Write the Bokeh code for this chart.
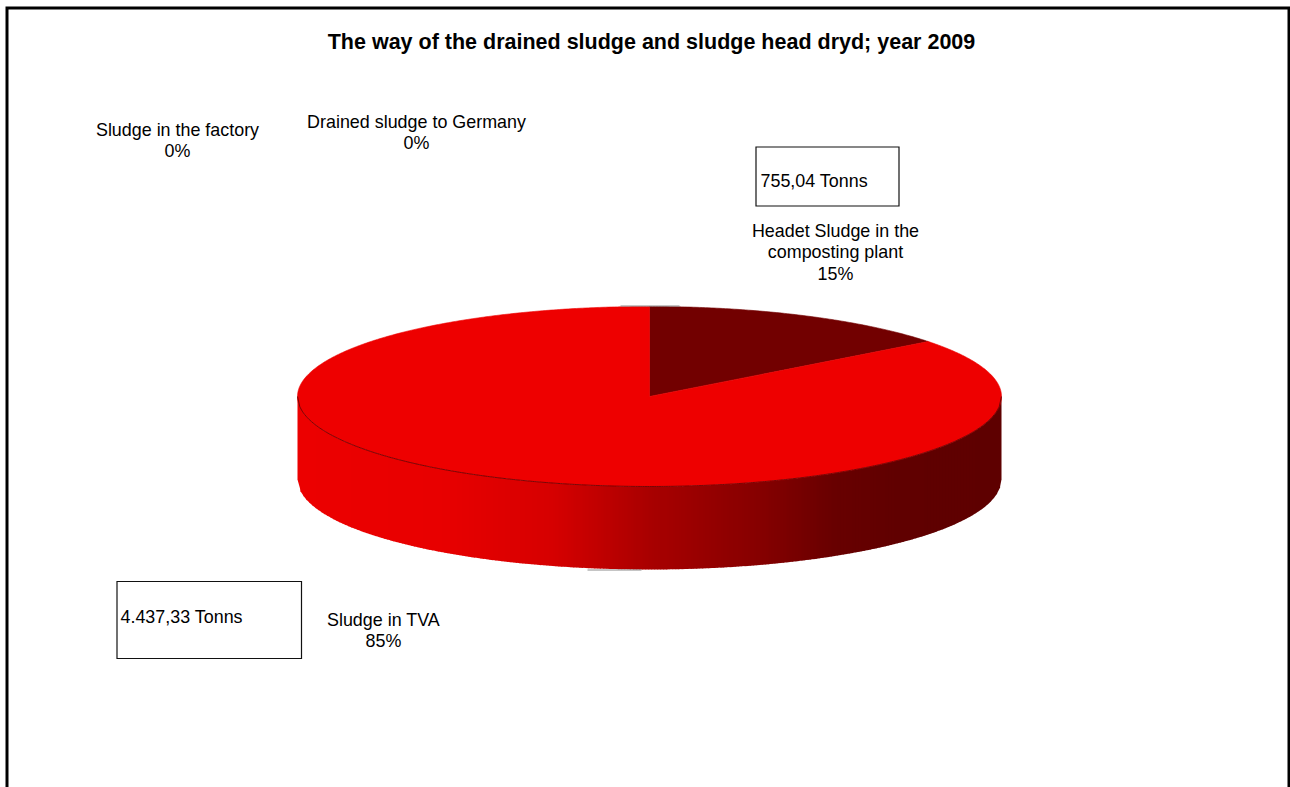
from math import pi, sin, cos, sqrt

from bokeh.core.properties import value
from bokeh.embed import file_html
from bokeh.models import Range1d
from bokeh.plotting import figure
from bokeh.resources import INLINE

# Destination of the sludge, tonnes in 2009
categories = ["Headet Sludge in the\ncomposting plant", "Sludge in TVA",
              "Sludge in the factory", "Drained sludge to Germany"]
tonnes = [755.04, 4437.33, 0.0, 0.0]
tonne_labels = ["755,04 Tonns", "4.437,33 Tonns"]
title_text = "The way of the drained sludge and sludge head dryd; year 2009"

W, H = 1290, 787
FONT = value("Liberation Sans")

# Projected disc geometry, in page pixels
CX, CY, RX, RY, DEPTH = 649.0, 396.0, 352.0, 90.0, 83.0
TOP_COLORS = ["#720000", "#ee0000", "#ee0000", "#ee0000"]

# Shading stops along the rim, from the left edge to the right edge
RIM_STOPS = [(0.00, (236, 0, 0)), (0.20, (232, 0, 0)), (0.36, (214, 0, 0)),
             (0.50, (168, 0, 0)), (0.66, (132, 0, 0)), (0.76, (104, 0, 0)),
             (0.85, (96, 0, 0)), (1.00, (94, 0, 0))]


def rim_color(t):
    for (t0, c0), (t1, c1) in zip(RIM_STOPS, RIM_STOPS[1:]):
        if t <= t1:
            f = (t - t0) / (t1 - t0)
            return "#%02x%02x%02x" % tuple(round(a + (b - a) * f) for a, b in zip(c0, c1))
    return "#5e0000"


p = figure(width=W, height=H, output_backend="svg", toolbar_location=None,
           x_range=Range1d(0, W), y_range=Range1d(H, 0),
           min_border=0, outline_line_color=None, background_fill_color="white")
p.xaxis.visible = False
p.yaxis.visible = False
p.grid.visible = False

# Open frame: left, top and right edges only
p.line([6.5, 6.5, 1288.5, 1288.5], [H, 7.5, 7.5, H], line_color="black", line_width=3,
       line_join="miter")


def front_arc(x):
    u = (x - CX) / RX
    return CY + RY * sqrt(max(0.0, 1 - u * u))


# Rim of the disc, as narrow vertical bands
BAND = 3
xs, ys, cols = [], [], []
x = CX - RX
while x < CX + RX:
    x1 = min(x + BAND, CX + RX)
    x1c = min(x1 + 0.6, CX + RX)
    xs.append([x, x1c, x1c, x])
    ys.append([front_arc(x), front_arc(x1c), front_arc(x1c) + DEPTH, front_arc(x) + DEPTH])
    cols.append(rim_color((x - (CX - RX)) / (2 * RX)))
    x = x1
p.patches(xs, ys, fill_color=cols, line_color=None)

# Flat top of the disc: one wedge per category, clockwise from twelve o'clock
total = sum(tonnes)
angle = 0.0
for t, col in zip(tonnes, TOP_COLORS):
    if t <= 0:
        continue
    sweep = 2 * pi * t / total
    n = max(4, int(sweep * 120))
    a = [angle + sweep * i / n for i in range(n + 1)]
    wx = [CX] + [CX + RX * sin(v) for v in a]
    wy = [CY] + [CY - RY * cos(v) for v in a]
    p.patch(wx, wy, fill_color=col, line_color=col, line_width=0.6)
    angle += sweep

# Thin dark seam where the top meets the rim
n = 300
seam_x = [CX - RX + 2 * RX * i / n for i in range(n + 1)]
p.line(seam_x, [front_arc(v) for v in seam_x], line_color="#5a0000", line_width=0.8)

# Zero-sized wedges leave only a sliver at the top and bottom of the disc
p.line([CX - 29, CX + 30], [CY - RY - 0.5, CY - RY - 0.5], line_color="#8c8c8c", line_width=1)
p.line([CX - 62, CX - 8], [CY + RY + DEPTH + 0.5, CY + RY + DEPTH + 0.5], line_color="#8c8c8c", line_width=1)

# Title
p.text([651], [41], text=[title_text], text_font=FONT, text_font_size="21.5px",
       text_font_style="bold", text_align="center", text_baseline="middle", text_color="black")

# Category labels with their share of the total
label_pos = [(835, 230.5), (383, 619.5), (177, 129.5), (416, 121.5)]
for cat, t, (lx, ly) in zip(categories, tonnes, label_pos):
    lines = cat.split("\n") + ["%d%%" % round(100 * t / total)]
    p.text([lx] * len(lines), [ly + i * 21.3 for i in range(len(lines))], text=lines,
           text_font=FONT, text_font_size="17.9px", text_align="center",
           text_baseline="middle", text_color="black")

# Boxed tonnages
boxes = [(755.5, 146.5, 899, 206, 760, 180.5), (116.5, 581, 301.5, 658.5, 120, 616)]
for (l, tp, r, b, tx, ty), s in zip(boxes, tonne_labels):
    p.quad(left=[l], right=[r - 0.5], top=[tp], bottom=[b - 0.5],
           fill_color="white", line_color="#111111", line_width=1.2, line_join="miter")
    p.text([tx], [ty], text=[s], text_font=FONT, text_font_size="17.9px",
           text_align="left", text_baseline="middle", text_color="black")

open("out.html", "w").write(file_html(p, INLINE))
